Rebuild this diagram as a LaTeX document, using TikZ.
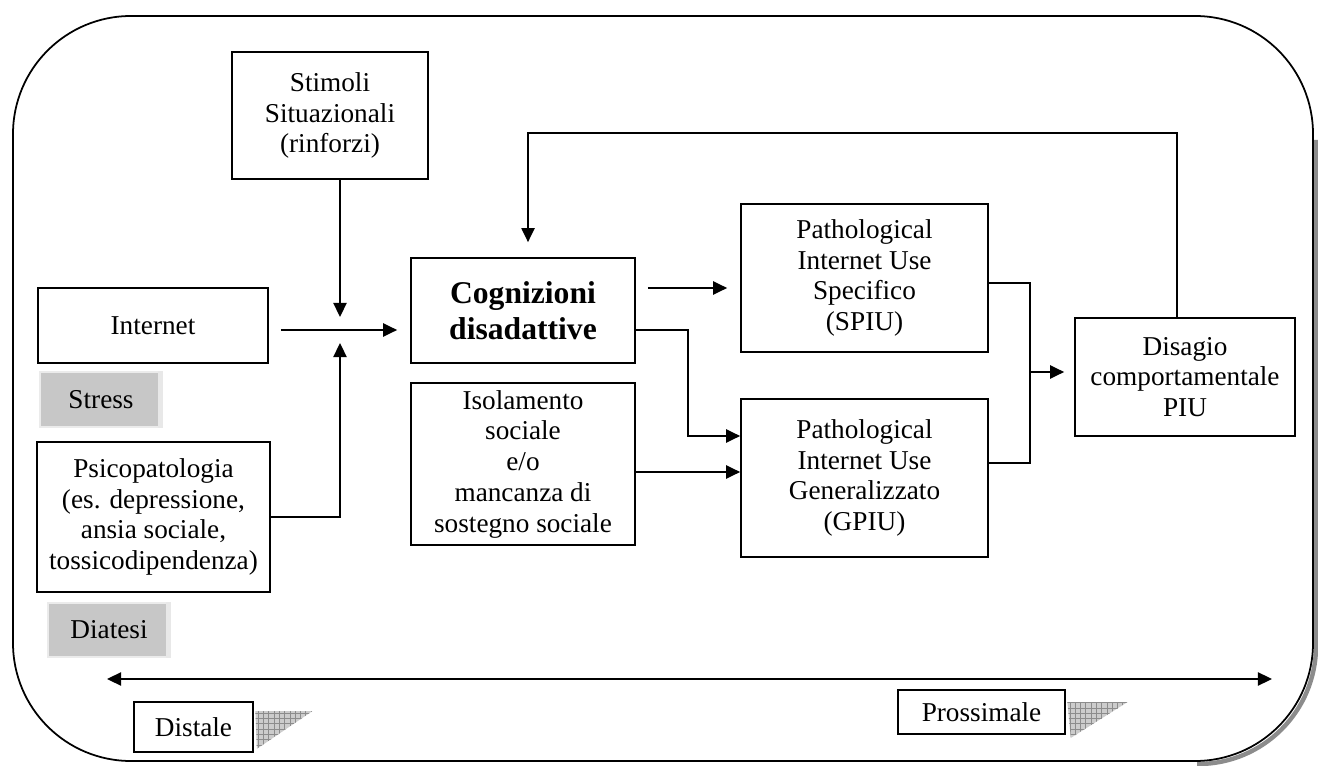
\documentclass[tikz,border=0pt]{standalone}
\usepackage{fontspec}
\setmainfont{Liberation Serif}
\usetikzlibrary{arrows.meta,positioning,patterns}

\tikzset{
  box/.style={draw, line width=1pt, fill=white, align=center, inner sep=2pt,
    font=\fontsize{15.5}{17.5}\selectfont},
  tag/.style={fill=black!22, draw=black!8, line width=1.5pt, inner sep=0pt,
    font=\fontsize{15.5}{17.5}\selectfont},
  link/.style={line width=1pt},
  arr/.style={line width=1pt, -{Triangle[length=8pt,width=7.5pt]}},
  shade/.style={pattern=grid, pattern color=black!45},
}

\begin{document}
\begin{tikzpicture}[x=0.02cm, y=-0.02cm]
\useasboundingbox (0,0) rectangle (1318,766);

% cornice
\draw[line width=2.5pt, black!45, rounded corners=2.36cm] (1316,140) -- (1316,764) -- (1197,764);
\draw[line width=1pt, fill=white, rounded corners=2.36cm] (13,16) rectangle (1313,761);

\node[box, minimum width=3.92cm, minimum height=2.54cm] (stimoli) at (330,115.5) {Stimoli\\Situazionali\\(rinforzi)};
\node[box, minimum width=4.6cm, minimum height=1.5cm] (internet) at (153,325.5) {Internet};
\node[tag, minimum width=2.44cm, minimum height=1.1cm] (stress) at (101,399.5) {Stress};
\node[box, minimum width=4.66cm, minimum height=3cm] (psico) at (153.5,517) {Psicopatologia\\(es. depressione,\\ansia sociale,\\tossicodipendenza)};
\node[tag, minimum width=2.44cm, minimum height=1.08cm] (diatesi) at (109,630) {Diatesi};

\node[box, minimum width=4.48cm, minimum height=2.1cm, font=\bfseries\fontsize{18}{20.5}\selectfont] (cogn) at (523,310.5) {Cognizioni\\disadattive};
\node[box, minimum width=4.48cm, minimum height=3.24cm] (isol) at (523,464) {Isolamento\\sociale\\e/o\\mancanza di\\sostegno sociale};

\node[box, minimum width=4.94cm, minimum height=2.96cm] (spiu) at (864.5,278) {Pathological\\Internet Use\\Specifico\\(SPIU)};
\node[box, minimum width=4.94cm, minimum height=3.16cm] (gpiu) at (864.5,478) {Pathological\\Internet Use\\Generalizzato\\(GPIU)};
\node[box, minimum width=4.4cm, minimum height=2.36cm] (disagio) at (1185,377) {Disagio\\comportamentale\\PIU};

\node[box, minimum width=2.38cm, minimum height=1cm] (distale) at (193.5,727) {Distale};
\node[box, minimum width=3.34cm, minimum height=0.88cm] (prossimale) at (981.5,712) {Prossimale};

% rilievo e ombre
\fill[black!9] (stress.north east) rectangle ([xshift=-0.1cm]stress.south east);
\fill[black!9] (diatesi.north east) rectangle ([xshift=-0.1cm]diatesi.south east);
\fill[black!20] ([xshift=0.03cm,yshift=-0.2cm]distale.north east) -- ++(57,0) -- ([xshift=0.06cm,yshift=0.08cm]distale.south east) -- cycle;
\fill[shade] ([xshift=0.03cm,yshift=-0.2cm]distale.north east) -- ++(57,0) -- ([xshift=0.06cm,yshift=0.08cm]distale.south east) -- cycle;
\fill[black!20] ([xshift=0.03cm,yshift=-0.26cm]prossimale.north east) -- ++(60,0) -- ([xshift=0.1cm,yshift=-0.06cm]prossimale.south east) -- cycle;
\fill[shade] ([xshift=0.03cm,yshift=-0.26cm]prossimale.north east) -- ++(60,0) -- ([xshift=0.1cm,yshift=-0.06cm]prossimale.south east) -- cycle;

\coordinate (j) at (340,330);
\coordinate (m) at (1030,372);
\coordinate (l) at (107,679);
\coordinate (r) at (1272,679);

\draw[arr, shorten >=0.26cm] (stimoli.south -| j) -- (j);
\draw[arr, shorten >=0.26cm] (psico.east) -| (j);
\draw[arr, shorten <=0.24cm, shorten >=0.26cm] (internet.east |- j) -- (cogn.west |- j);

\draw[arr, shorten <=0.24cm, shorten >=0.26cm] (cogn.east |- 0,288) -- (spiu.west |- 0,288);
\draw[arr] (cogn.east |- j) -- ++(52,0) |- (gpiu.west |- 0,436);
\draw[arr] (isol.east |- 0,472) -- (gpiu.west |- 0,472);

\draw[link] (spiu.east |- 0,283) -| (m) |- (gpiu.east |- 0,463);
\draw[arr, shorten >=0.2cm] (m) -- (disagio.west |- m);
\draw[arr, shorten >=0.3cm] (disagio.north -| 1177,0) |- (528,133) -- (cogn.north -| 528,0);

\draw[line width=1pt, {Triangle[length=8pt,width=7.5pt]}-{Triangle[length=8pt,width=7.5pt]}] (l) -- (r);
\end{tikzpicture}
\end{document}
